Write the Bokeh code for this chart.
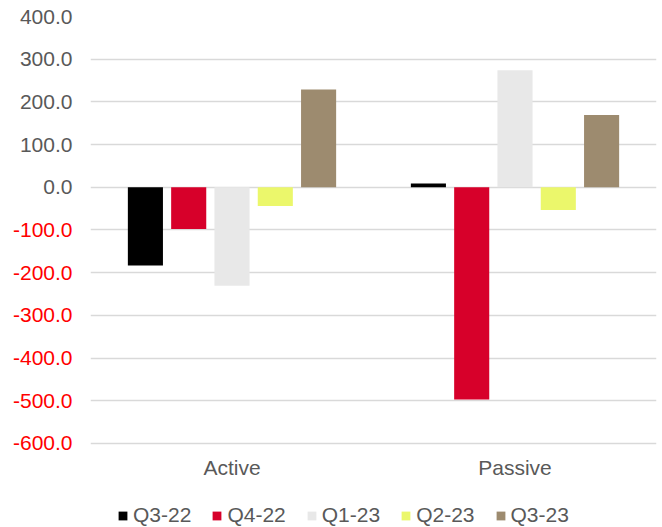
from bokeh.plotting import figure
from bokeh.models import (FactorRange, Range1d, FixedTicker, LinearAxis, Legend,
                          LegendItem, ColumnDataSource, NumeralTickFormatter)
from bokeh.core.properties import value
from bokeh.transform import dodge
from bokeh.embed import file_html
from bokeh.resources import INLINE

categories = ["Active", "Passive"]
series_names = ["Q3-22", "Q4-22", "Q1-23", "Q2-23", "Q3-23"]
q3_22 = [-183, 9]
q4_22 = [-98, -497]
q1_23 = [-231, 274]
q2_23 = [-44, -53]
q3_23 = [229, 169]
colors = ["#000000", "#d7002a", "#e8e8e8", "#ebf76b", "#9d8b6f"]
pos_ticks = [0, 100, 200, 300, 400]
neg_ticks = [-600, -500, -400, -300, -200, -100]

FONT = "Liberation Sans"
FS = "21px"
TXT = "#595959"

src = ColumnDataSource(dict(cat=categories, q3_22=q3_22, q4_22=q4_22,
                            q1_23=q1_23, q2_23=q2_23, q3_23=q3_23))

# the frame reaches the bottom of the figure so that the category labels
# and the legend (drawn inside the frame) sit below the -600 gridline
p = figure(width=662, height=527, x_range=FactorRange(*categories, range_padding=0),
           y_range=Range1d(-797, 400), output_backend="svg", toolbar_location=None,
           min_border_left=90, min_border_top=16, min_border_right=6, min_border_bottom=0)
p.outline_line_color = None
p.background_fill_color = "white"
p.border_fill_color = "white"

fields = ["q3_22", "q4_22", "q1_23", "q2_23", "q3_23"]
slot = 0.153
renderers = []
for i, (f, c) in enumerate(zip(fields, colors)):
    r = p.vbar(x=dodge("cat", (i - 2) * slot, range=p.x_range), top=f, bottom=0,
               width=0.124, source=src, fill_color=c, line_color=None)
    renderers.append(r)

# category labels
p.text(x="cat", y=-656, text="cat", source=src, text_font=value(FONT),
       text_font_size=value(FS), text_color=TXT, text_align="center",
       text_baseline="middle")

# grid
p.xgrid.visible = False
p.ygrid.ticker = FixedTicker(ticks=neg_ticks + pos_ticks)
p.ygrid.grid_line_color = "#d9d9d9"
p.ygrid.grid_line_width = 1.5

p.xaxis.visible = False

# y axis (positive, gray)
ya = p.yaxis[0]
ya.ticker = FixedTicker(ticks=pos_ticks)
ya.formatter = NumeralTickFormatter(format="0.0")
ya.axis_line_color = None
ya.major_tick_line_color = None
ya.minor_tick_line_color = None
ya.major_tick_out = 0
ya.minor_tick_out = 0
ya.major_label_text_font = FONT
ya.major_label_text_font_size = FS
ya.major_label_text_color = TXT
ya.major_label_standoff = 18

# y axis (negative, red)
ya2 = LinearAxis(ticker=FixedTicker(ticks=neg_ticks),
                 formatter=NumeralTickFormatter(format="0.0"))
ya2.axis_line_color = None
ya2.major_tick_line_color = None
ya2.minor_tick_line_color = None
ya2.major_tick_out = 0
ya2.minor_tick_out = 0
ya2.major_label_text_font = FONT
ya2.major_label_text_font_size = FS
ya2.major_label_text_color = "#ff0000"
ya2.major_label_standoff = -56
p.add_layout(ya2, "left")

legend = Legend(items=[LegendItem(label=n, renderers=[r]) for n, r in zip(series_names, renderers)],
                orientation="horizontal", location=(27, 0), padding=0, margin=0,
                glyph_width=11, glyph_height=11, label_standoff=5, spacing=20,
                label_text_font=FONT, label_text_font_size=FS, label_text_color=TXT,
                background_fill_alpha=0, border_line_color=None)
p.add_layout(legend, "center")

open("out.html", "w").write(file_html(p, INLINE))
